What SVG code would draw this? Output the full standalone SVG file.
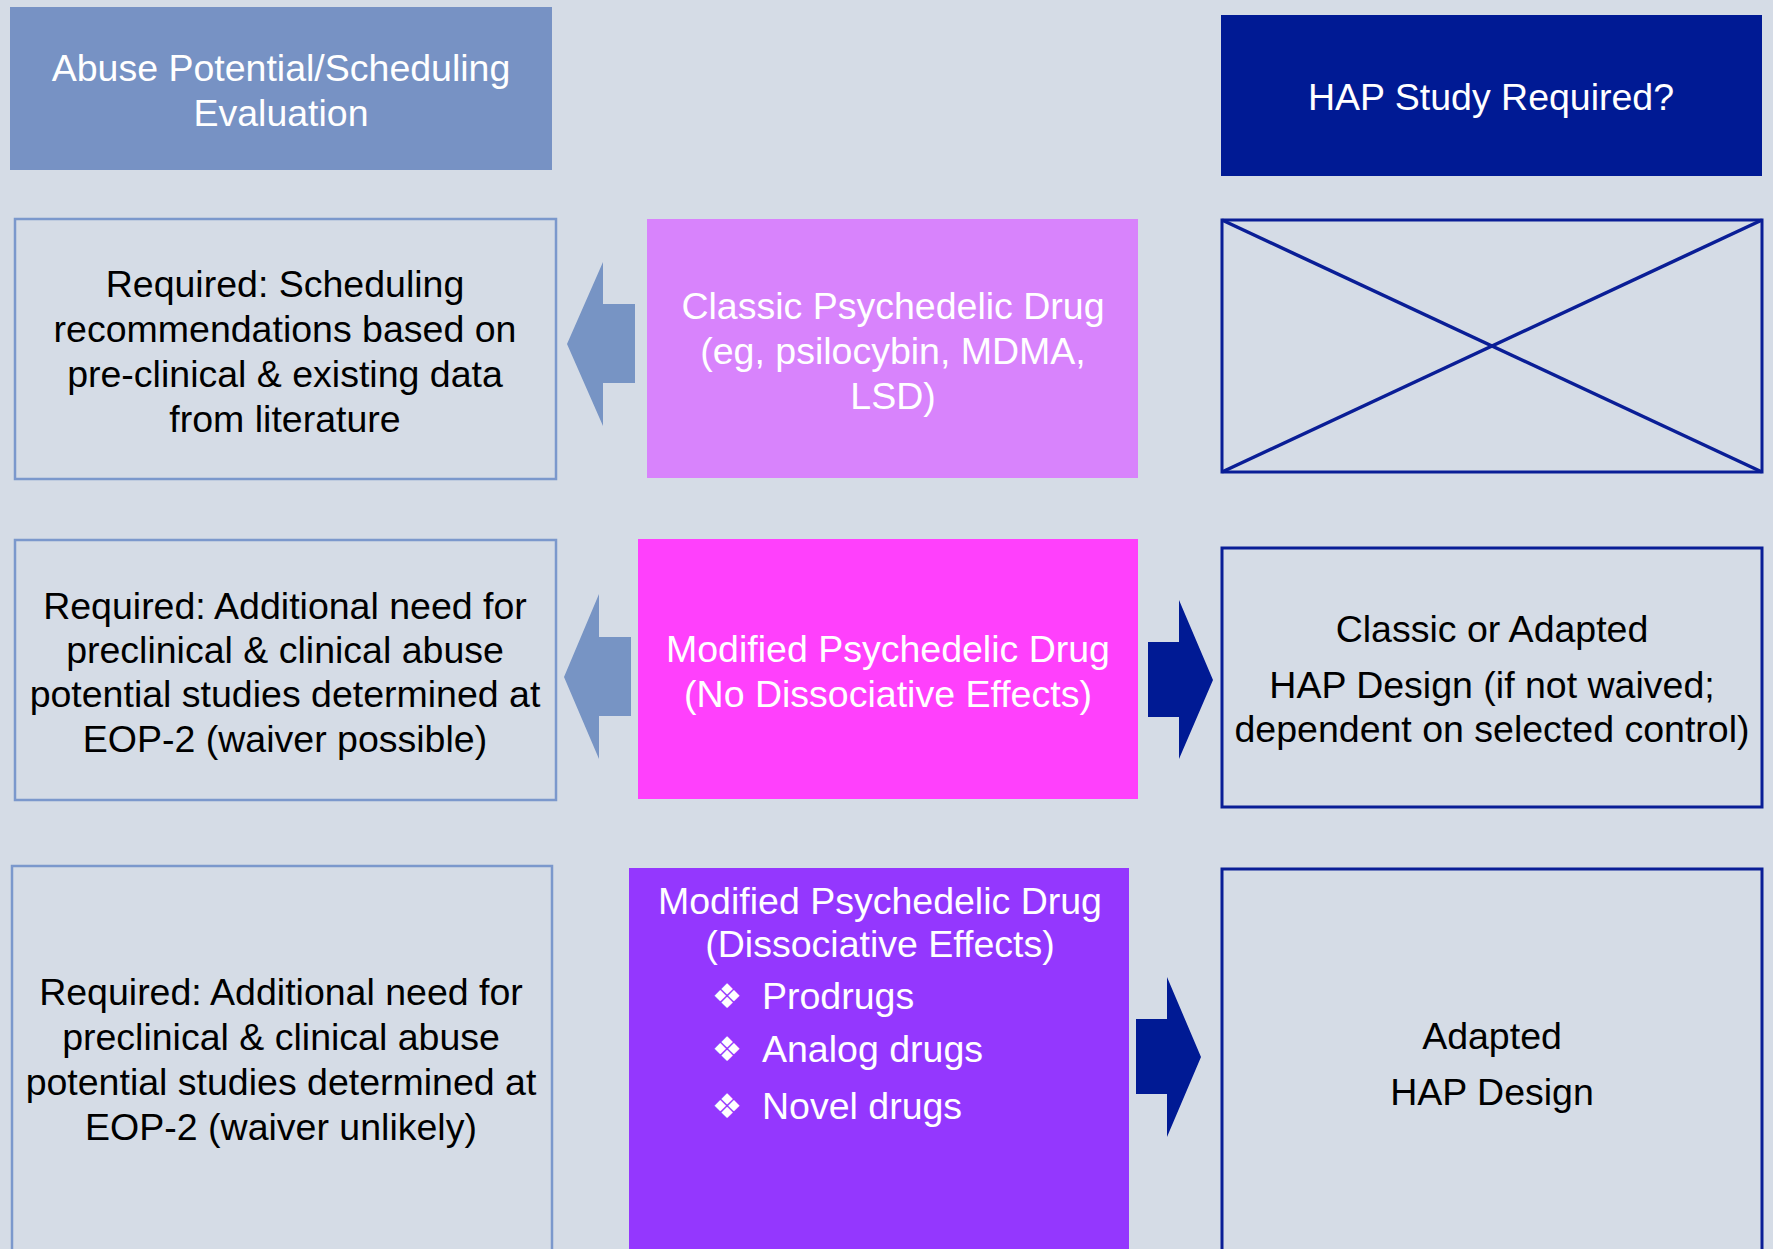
<svg xmlns="http://www.w3.org/2000/svg" width="1773" height="1249" viewBox="0 0 1773 1249">
<style>
  .t { font-family: "Liberation Sans", Arial, sans-serif; font-size: 37.5px; text-anchor: middle; }
  .w { fill: #ffffff; }
  .k { fill: #000000; }
  .lbox { fill: #D5DCE6; stroke: #7B98CC; stroke-width: 2.5; }
  .rbox { fill: #D5DCE6; stroke: #0A1E96; stroke-width: 3; }
  .larrow { fill: #7794C4; }
  .rarrow { fill: #001A94; }
  .bul { font-family: "DejaVu Sans", sans-serif; font-size: 34px; fill: #ffffff; text-anchor: middle; }
  .bt { font-family: "Liberation Sans", Arial, sans-serif; font-size: 37.5px; fill: #ffffff; }
</style>
<rect x="0" y="0" width="1773" height="1249" fill="#D5DCE6"/>

<g id="header-abuse">
  <rect x="10" y="7" width="542" height="163" fill="#7792C4"/>
  <text class="t w" x="281" y="81">Abuse Potential/Scheduling</text>
  <text class="t w" x="281" y="126">Evaluation</text>
</g>

<g id="header-hap">
  <rect x="1221" y="15" width="541" height="161" fill="#001A94"/>
  <text class="t w" x="1491" y="110">HAP Study Required?</text>
</g>

<g id="req-scheduling">
  <rect class="lbox" x="15" y="219" width="541" height="260"/>
  <text class="t k" x="285" y="297">Required: Scheduling</text>
  <text class="t k" x="285" y="342">recommendations based on</text>
  <text class="t k" x="285" y="387">pre-clinical &amp; existing data</text>
  <text class="t k" x="285" y="432">from literature</text>
</g>

<g id="classic-drug">
  <rect x="647" y="219" width="491" height="259" fill="#D883FC"/>
  <text class="t w" x="893" y="319">Classic Psychedelic Drug</text>
  <text class="t w" x="893" y="364">(eg, psilocybin, MDMA,</text>
  <text class="t w" x="893" y="409">LSD)</text>
</g>

<g id="hap-not-required">
  <rect class="rbox" x="1222" y="220" width="540" height="252"/>
  <line x1="1222" y1="220" x2="1762" y2="472" stroke="#0A1E96" stroke-width="3.5"/>
  <line x1="1222" y1="472" x2="1762" y2="220" stroke="#0A1E96" stroke-width="3.5"/>
</g>

<g id="req-waiver-possible">
  <rect class="lbox" x="15" y="540" width="541" height="260"/>
  <text class="t k" x="285" y="619">Required: Additional need for</text>
  <text class="t k" x="285" y="663">preclinical &amp; clinical abuse</text>
  <text class="t k" x="285" y="707">potential studies determined at</text>
  <text class="t k" x="285" y="752">EOP-2 (waiver possible)</text>
</g>

<g id="modified-no-dissociative">
  <rect x="638" y="539" width="500" height="260" fill="#FF40FC"/>
  <text class="t w" x="888" y="662">Modified Psychedelic Drug</text>
  <text class="t w" x="888" y="707">(No Dissociative Effects)</text>
</g>

<g id="classic-or-adapted">
  <rect class="rbox" x="1222" y="548" width="540" height="259"/>
  <text class="t k" x="1492" y="642">Classic or Adapted</text>
  <text class="t k" x="1492" y="698">HAP Design (if not waived;</text>
  <text class="t k" x="1492" y="742">dependent on selected control)</text>
</g>

<g id="req-waiver-unlikely">
  <rect class="lbox" x="12" y="866" width="540" height="400"/>
  <text class="t k" x="281" y="1005">Required: Additional need for</text>
  <text class="t k" x="281" y="1050">preclinical &amp; clinical abuse</text>
  <text class="t k" x="281" y="1095">potential studies determined at</text>
  <text class="t k" x="281" y="1140">EOP-2 (waiver unlikely)</text>
</g>

<g id="modified-dissociative">
  <rect x="629" y="868" width="500" height="400" fill="#9437FE"/>
  <text class="t w" x="880" y="914">Modified Psychedelic Drug</text>
  <text class="t w" x="880" y="957">(Dissociative Effects)</text>
  <text class="bul" x="727" y="1008">❖</text>
  <text class="bt" x="762" y="1009">Prodrugs</text>
  <text class="bul" x="727" y="1061">❖</text>
  <text class="bt" x="762" y="1062">Analog drugs</text>
  <text class="bul" x="727" y="1118">❖</text>
  <text class="bt" x="762" y="1119">Novel drugs</text>
</g>

<g id="adapted-hap">
  <rect class="rbox" x="1222" y="869" width="540" height="400"/>
  <text class="t k" x="1492" y="1049">Adapted</text>
  <text class="t k" x="1492" y="1105">HAP Design</text>
</g>

<g id="connectors">
  <polygon class="larrow" points="635,304 603,304 603,262 567,344 603,426 603,383 635,383"/>
  <polygon class="larrow" points="631,637 599,637 599,594 564,677 599,759 599,716 631,716"/>
  <polygon class="rarrow" points="1148,642 1179,642 1179,600 1213,680 1179,759 1179,717 1148,717"/>
  <polygon class="rarrow" points="1136,1019 1167,1019 1167,977 1201,1057 1167,1137 1167,1094 1136,1094"/>
</g>
</svg>
